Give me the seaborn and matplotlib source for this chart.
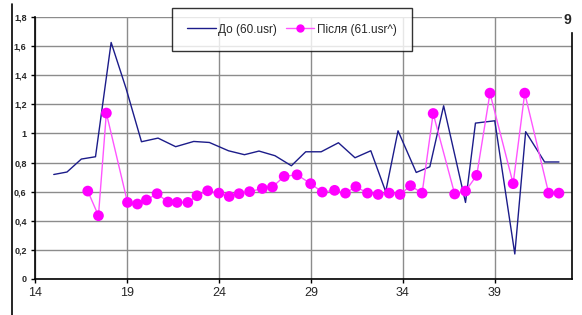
import numpy as np
import pandas as pd
import matplotlib
matplotlib.use('Agg')
import matplotlib.pyplot as plt
import matplotlib.ticker as mtick
from matplotlib.lines import Line2D
import seaborn as sns

# До (60.usr)
before_x = [15.02, 15.74, 16.52, 17.29, 18.14, 18.95, 19.79, 20.69, 21.65, 22.63,
            23.48, 24.52, 25.39, 26.18, 27.05, 27.94, 28.72, 29.56, 30.50, 31.40,
            32.26, 33.07, 33.74, 34.73, 35.47, 36.22, 37.41, 37.95, 39.00, 40.09,
            40.68, 41.71, 42.49]
before_y = [0.718, 0.735, 0.824, 0.840, 1.625, 1.31, 0.943, 0.968, 0.909, 0.945,
            0.938, 0.881, 0.854, 0.879, 0.847, 0.778, 0.874, 0.874, 0.936, 0.833,
            0.881, 0.600, 1.018, 0.732, 0.771, 1.190, 0.526, 1.071, 1.087, 0.172,
            1.012, 0.804, 0.804]

# Після (61.usr^)
after_x = [16.87, 17.45, 17.88, 19.03, 19.57, 20.06, 20.64, 21.23, 21.73, 22.31,
           22.81, 23.39, 24.00, 24.56, 25.10, 25.67, 26.36, 26.91, 27.55, 28.25,
           28.99, 29.62, 30.29, 30.88, 31.45, 32.08, 32.66, 33.26, 33.85, 34.42,
           35.05, 35.65, 36.82, 37.41, 38.02, 38.74, 40.00, 40.63, 41.93, 42.49]
after_y = [0.604, 0.435, 1.140, 0.526, 0.515, 0.543, 0.586, 0.529, 0.526, 0.526,
           0.572, 0.606, 0.590, 0.567, 0.586, 0.600, 0.622, 0.632, 0.705, 0.716,
           0.655, 0.597, 0.609, 0.590, 0.634, 0.590, 0.581, 0.590, 0.581, 0.641,
           0.590, 1.137, 0.584, 0.604, 0.712, 1.277, 0.655, 1.277, 0.590, 0.590]

x_ticks = [14, 19, 24, 29, 34, 39]
y_ticks = [0, 0.2, 0.4, 0.6, 0.8, 1.0, 1.2, 1.4, 1.6, 1.8]

sns.set_style('white')
plt.rcParams['font.family'] = ['Liberation Sans', 'DejaVu Sans']

fig = plt.figure(figsize=(5.82, 3.15), dpi=100)
ax = fig.add_axes([35 / 582, 1 - 279 / 315, (572 - 35) / 582, (279 - 17) / 315])

before = pd.DataFrame({'x': before_x, 'y': before_y})
after = pd.DataFrame({'x': after_x, 'y': after_y})

sns.lineplot(data=before, x='x', y='y', sort=False, ax=ax, color='#1c1c8a',
             linewidth=1.0, label='До (60.usr)')
sns.lineplot(data=after, x='x', y='y', sort=False, ax=ax, color='#ff55ff',
             linewidth=1.0, legend=False)
sns.scatterplot(data=after, x='x', y='y', ax=ax, color='#ff00ff', s=60,
                edgecolor='none', legend=False, zorder=5)

ax.set_xlim(14, 43.2)
ax.set_ylim(0, 1.8)
ax.set_xticks(x_ticks)
ax.set_yticks(y_ticks)
ax.yaxis.set_major_formatter(mtick.FuncFormatter(lambda v, p: ('%g' % round(v, 1)).replace('.', ',')))
ax.grid(True, color='#8c8c8c', linewidth=1.0)
ax.set_axisbelow(True)
ax.set_xlabel('')
ax.set_ylabel('')

for lab in ax.get_yticklabels():
    lab.set_fontweight('bold')
    lab.set_fontsize(6.5)
for lab in ax.get_xticklabels():
    lab.set_fontsize(9)
ax.tick_params(axis='both', direction='out', length=3, width=1, color='black', pad=3)
ax.tick_params(axis='y', left=True)
ax.tick_params(axis='x', bottom=True)

ax.spines['top'].set_visible(False)
ax.spines['left'].set_color('black')
ax.spines['bottom'].set_color('black')
ax.spines['right'].set_color('black')
ax.spines['right'].set_bounds(0, 1.69)
for s in ['left', 'bottom', 'right']:
    ax.spines[s].set_linewidth(1.2)

handles = [Line2D([], [], color='#1c1c8a', linewidth=1.0),
           Line2D([], [], color='#ff55ff', linewidth=1.0, marker='o',
                  markerfacecolor='#ff00ff', markeredgecolor='#ff00ff', markersize=5)]
leg = ax.legend(handles, ['До (60.usr)', 'Після (61.usr^)'], ncol=2, loc='center',
                bbox_to_anchor=(292 / 582, 1 - 29.5 / 315), bbox_transform=fig.transFigure,
                fontsize=8.5, frameon=True, fancybox=False, borderpad=1.3,
                borderaxespad=0, handlelength=2.4, handletextpad=0.25, columnspacing=0.7)
leg.get_frame().set_edgecolor('black')
leg.get_frame().set_linewidth(1.0)
leg.set_zorder(10)

fig.add_artist(Line2D([12 / 582, 12 / 582], [0, 1 - 4 / 315], color='black', linewidth=1.2))
fig.text(567 / 582, 1 - 20 / 315, '9', fontsize=10, fontweight='bold', ha='center', va='center',
         bbox=dict(facecolor='white', edgecolor='none', pad=1))

fig.savefig('out.png', dpi=100)
